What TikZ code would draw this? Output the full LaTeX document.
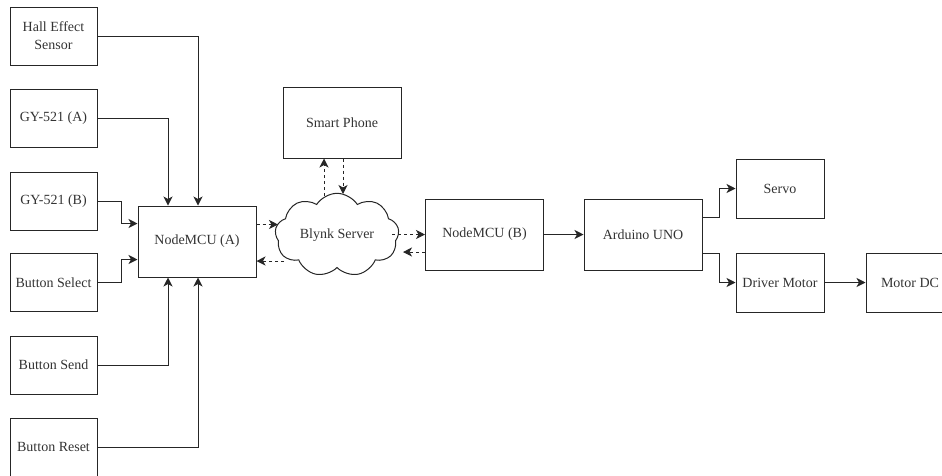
\documentclass[tikz,border=0pt]{standalone}
\usepackage{fontspec}
\setmainfont{Liberation Serif}
\usetikzlibrary{shapes.symbols,arrows.meta}
\begin{document}
\begin{tikzpicture}[x=1pt,y=-1pt,
  every node/.style={font=\fontsize{14}{18}\selectfont, text=black!80},
  blk/.style={draw=black!85, line width=1pt, inner sep=2pt, align=center},
  sbox/.style={blk, minimum width=87pt, minimum height=58pt},
  mbox/.style={blk, minimum width=118pt, minimum height=71pt},
  wire/.style={draw=black!85, line width=1pt, -{Stealth[length=9pt,width=9pt,inset=2.5pt]}},
  dwire/.style={wire, dash pattern=on 3pt off 3pt}
]
\useasboundingbox (0,0) rectangle (942,475);
\clip (0,0) rectangle (942,475);

\node[sbox] (hall) at (53.5,36) {Hall Effect\\Sensor};
\node[sbox] (gya) at (53.5,118) {GY-521 (A)};
\node[sbox] (gyb) at (53.5,201) {GY-521 (B)};
\node[sbox] (bsel) at (53.5,282.5) {Button Select};
\node[sbox] (bsend) at (53.5,365) {Button Send};
\node[sbox] (breset) at (53.5,447) {Button Reset};

\node[mbox] (A) at (197,241.5) {NodeMCU (A)};
\node[mbox] (phone) at (342,122.5) {Smart Phone};
\node[cloud, draw=black!85, line width=1pt, cloud puffs=9, cloud puff arc=115, aspect=1.55,
      minimum width=124pt, minimum height=80pt, inner sep=0pt] (cloud) at (337,235) {Blynk Server};
\node[mbox] (B) at (484.5,234.5) {NodeMCU (B)};
\node[mbox] (uno) at (643,234.5) {Arduino UNO};
\node[blk, minimum width=88pt, minimum height=59pt] (servo) at (780,188.5) {Servo};
\node[blk, minimum width=88pt, minimum height=59pt] (driver) at (780,282.5) {Driver Motor};
\node[blk, minimum width=88pt, minimum height=59pt] (motor) at (910,282.5) {Motor DC};

\coordinate (c1) at (278,224.5);
\coordinate (c2) at (284,261);
\coordinate (c3) at (392,234.5);
\coordinate (c4) at (403,252);
\coordinate (c5) at (324,196);
\coordinate (c6) at (343,194);

\draw[wire] (hall.east) -| ([xshift=1pt]A.north);
\draw[wire] (gya.east) -| ([xshift=-29pt]A.north);
\draw[wire] (gyb.east) -- ++(24,0) |- ([yshift=18pt]A.west);
\draw[wire] (bsel.east) -- ++(24,0) |- ([yshift=-18pt]A.west);
\draw[wire] (bsend.east) -| ([xshift=-29pt]A.south);
\draw[wire] (breset.east) -| ([xshift=1pt]A.south);

\draw[dwire] ([yshift=17pt]A.east) -- (c1);
\draw[dwire] (c2) -- ([yshift=-19.5pt]A.east);
\draw[dwire] (c3) -- (B.west);
\draw[dwire] ([yshift=-17.5pt]B.west) -- (c4);
\draw[dwire] (c5) -- ([xshift=-18pt]phone.south);
\draw[dwire] ([xshift=1pt]phone.south) -- (c6);

\draw[wire] (B.east) -- (uno.west);
\draw[wire] ([yshift=17pt]uno.east) -- ++(17,0) |- (servo.west);
\draw[wire] ([yshift=-18.5pt]uno.east) -- ++(17,0) |- (driver.west);
\draw[wire] (driver.east) -- (motor.west);
\end{tikzpicture}
\end{document}
